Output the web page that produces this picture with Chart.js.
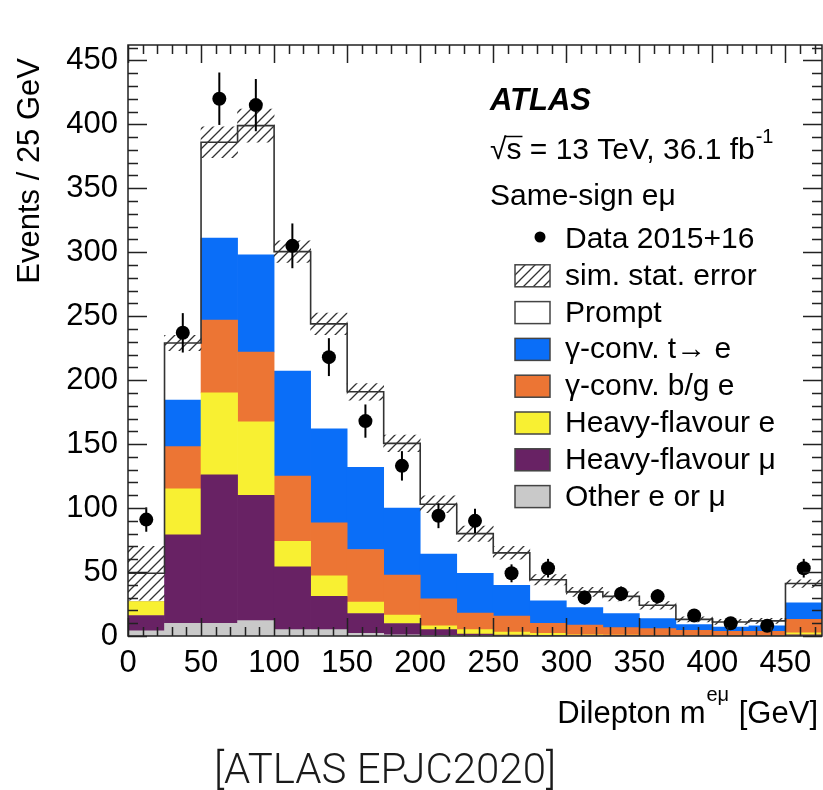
<!DOCTYPE html>
<html>
<head>
<meta charset="utf-8">
<title>Same-sign e-mu dilepton mass</title>
<script src="https://cdn.jsdelivr.net/npm/chart.js@4.4.1/dist/chart.umd.min.js"></script>
<style>
  html, body { margin: 0; padding: 0; background: #fff; }
  #wrap { width: 823px; height: 790px; }
</style>
</head>
<body>
<div id="wrap"><canvas id="myChart" width="823" height="790"></canvas></div>
<script>
// 25 GeV bins, low edges (last bin carries the overflow)
const binLow = [0, 25, 50, 75, 100, 125, 150, 175, 200, 225, 250, 275, 300, 325, 350, 375, 400, 425, 450];
const binWidth = 25;

// observed events and their errors
const data2016 = [91, 237, 420, 415, 305, 218, 168, 133, 94, 90, 49, 53, 30, 33, 31, 16, 10, 8, 53];
const dataErr  = [9.5, 15.4, 20.5, 20.4, 17.5, 14.8, 13, 11.5, 9.7, 9.5, 7, 7.3, 5.5, 5.7, 5.6, 4, 3.2, 2.8, 7.3];

// simulated components, stacked bottom to top
const otherLep = [4, 10, 10, 12, 5, 5, 2, 1, 0.5, 0.3, 0.2, 0.1, 0.1, 0, 0, 0, 0, 0, 0.1];
const hfMuon   = [12, 69, 116, 98, 49, 26, 15.6, 8.8, 4.5, 1.2, 0.6, 0.4, 0.3, 0.3, 0.2, 0.2, 0.1, 0.1, 0.9];
const hfElec   = [11, 36, 64, 57.5, 20, 16, 9, 6.5, 3, 3.5, 2.2, 1.5, 0.6, 0.5, 0.4, 0.3, 0.3, 0.3, 1.5];
const convBG   = [0, 33, 57, 54.5, 51, 41.5, 41, 31.3, 21, 13, 12.5, 8, 7.5, 5.8, 5.2, 4, 3.3, 3.3, 10.5];
const convTop  = [0, 36.5, 64, 76, 82, 73.5, 64.3, 52.4, 35, 31, 24.2, 17.5, 13.8, 11, 7.9, 4.5, 3.3, 4.3, 13];
const prompt   = [22, 44.5, 75, 101, 93.5, 82, 59, 50.6, 39, 31, 25.3, 16.5, 12.2, 13.4, 10.3, 4, 4, 3.8, 15];
const simStatErr = [21, 6, 12, 13, 8.5, 8.5, 6.5, 6.5, 6.5, 6, 5, 4, 3.5, 3.5, 3, 2, 2, 2, 3];

const xTickLabels = [0, 50, 100, 150, 200, 250, 300, 350, 400, 450];
const yTickLabels = [0, 50, 100, 150, 200, 250, 300, 350, 400, 450];

const FONT = "'Liberation Sans', Arial, Helvetica, sans-serif";

const total = binLow.map((_, i) =>
  otherLep[i] + hfMuon[i] + hfElec[i] + convBG[i] + convTop[i] + prompt[i]);

function makeHatch() {
  const c = document.createElement('canvas');
  c.width = 10; c.height = 10;
  const g = c.getContext('2d');
  g.strokeStyle = '#333';
  g.lineWidth = 1.3;
  g.beginPath();
  g.moveTo(-1, 11); g.lineTo(11, -1);
  g.moveTo(-1, 1); g.lineTo(1, -1);
  g.moveTo(9, 11); g.lineTo(11, 9);
  g.stroke();
  return g.createPattern(c, 'repeat');
}
const hatch = makeHatch();

function stackBar(label, values, color, row) {
  return {
    type: 'bar', label: label, data: values,
    backgroundColor: color, borderWidth: 0,
    xAxisID: 'xb', yAxisID: 'y', stack: 'mc', order: 4, grouped: false,
    barPercentage: 1, categoryPercentage: 1,
    legendRow: row
  };
}

const datasets = [
  {
    type: 'scatter', label: 'Data 2015+16',
    data: data2016.map((v, i) => ({ x: binLow[i] + binWidth / 2, y: v })),
    xAxisID: 'x', yAxisID: 'yh', order: 0,
    pointRadius: 7, pointHoverRadius: 7,
    pointBackgroundColor: '#000', pointBorderColor: '#000', pointBorderWidth: 0,
    legendRow: 0
  },
  {
    type: 'line', label: 'total',
    data: binLow.map((x, i) => ({ x: x, y: total[i] }))
      .concat([{ x: binLow[binLow.length - 1] + binWidth, y: total[total.length - 1] }]),
    xAxisID: 'x', yAxisID: 'yh', order: 1,
    stepped: 'before', borderColor: '#333', borderWidth: 1.6,
    pointRadius: 0, fill: false
  },
  {
    type: 'bar', label: 'sim. stat. error',
    data: total.map((t, i) => [t - simStatErr[i], t + simStatErr[i]]),
    xAxisID: 'xb', yAxisID: 'yh', order: 2, grouped: false,
    backgroundColor: hatch, borderWidth: 0,
    barPercentage: 1, categoryPercentage: 1,
    legendRow: 1
  },
  stackBar('Other e or \u03bc', otherLep, '#c9c9c9', 7),
  stackBar('Heavy-flavour \u03bc', hfMuon, '#682264', 6),
  stackBar('Heavy-flavour e', hfElec, '#f8f032', 5),
  stackBar('\u03b3-conv. b/g e', convBG, '#ec7534', 4),
  stackBar('\u03b3-conv. t\u2192 e', convTop, '#0a6ef8', 3),
  stackBar('Prompt', prompt, '#ffffff', 2)
];

const tickFont = { family: FONT, size: 31 };

// ROOT-style frame: inward ticks on all four sides, texts and legend
const atlasDecor = {
  id: 'atlasDecor',
  afterDatasetsDraw(chart) {
    const { ctx, chartArea: a, scales } = chart;
    const xs = scales.x, ys = scales.y;
    ctx.save();

    ctx.strokeStyle = '#000';
    ctx.lineWidth = 2;
    data2016.forEach((v, i) => {
      const px = xs.getPixelForValue(binLow[i] + binWidth / 2);
      ctx.beginPath();
      ctx.moveTo(px, ys.getPixelForValue(v - dataErr[i]));
      ctx.lineTo(px, ys.getPixelForValue(v + dataErr[i]));
      ctx.stroke();
    });

    ctx.strokeStyle = '#222';
    ctx.lineWidth = 1.5;
    ctx.beginPath();
    for (let v = 0; v <= ys.max; v += 10) {
      const py = Math.round(ys.getPixelForValue(v)) + 0.5;
      const len = v % 50 === 0 ? 19 : 10;
      ctx.moveTo(a.left, py); ctx.lineTo(a.left + len, py);
      ctx.moveTo(a.right, py); ctx.lineTo(a.right - len, py);
    }
    for (let v = 0; v <= xs.max; v += 10) {
      const px = Math.round(xs.getPixelForValue(v)) + 0.5;
      const len = v % 50 === 0 ? 18 : 9;
      ctx.moveTo(px, a.bottom); ctx.lineTo(px, a.bottom - len);
      ctx.moveTo(px, a.top); ctx.lineTo(px, a.top + len);
    }
    ctx.stroke();
    ctx.strokeRect(a.left, a.top, a.right - a.left, a.bottom - a.top);
    ctx.restore();
  },
  afterDraw(chart) {
    const ctx = chart.ctx;
    ctx.save();
    ctx.fillStyle = '#000';
    ctx.textBaseline = 'alphabetic';
    ctx.textAlign = 'left';

    // y axis title
    ctx.save();
    ctx.translate(39, 58);
    ctx.rotate(-Math.PI / 2);
    ctx.textAlign = 'right';
    ctx.font = '31px ' + FONT;
    ctx.fillText('Events / 25 GeV', 0, 0);
    ctx.restore();

    // x axis title with superscript
    const xEnd = 818, xBase = 723;
    ctx.font = '31px ' + FONT;
    const wUnit = ctx.measureText(' [GeV]').width;
    ctx.font = '20px ' + FONT;
    const wSup = ctx.measureText('e\u03bc').width + 2;
    ctx.fillText('e\u03bc', xEnd - wUnit - wSup + 1, xBase - 22);
    ctx.font = '31px ' + FONT;
    ctx.fillText(' [GeV]', xEnd - wUnit, xBase);
    ctx.textAlign = 'right';
    ctx.fillText('Dilepton m', xEnd - wUnit - wSup, xBase);
    ctx.textAlign = 'left';

    // labels inside the frame
    ctx.font = 'italic bold 31px ' + FONT;
    ctx.fillText('ATLAS', 490, 110);
    ctx.font = '30px ' + FONT;
    const wRoot = ctx.measureText('\u221a').width;
    const energy = '\u221as = 13 TeV, 36.1 fb';
    ctx.fillText(energy, 490, 159);
    const wS = ctx.measureText('s').width;
    ctx.lineWidth = 1.5;
    ctx.strokeStyle = '#000';
    ctx.beginPath();
    ctx.moveTo(490 + wRoot - 2, 136.5);
    ctx.lineTo(490 + wRoot + wS + 1, 136.5);
    ctx.stroke();
    const wE = ctx.measureText(energy).width;
    ctx.font = '20px ' + FONT;
    ctx.fillText('-1', 490 + wE + 1, 143);
    ctx.font = '30px ' + FONT;
    ctx.fillText('Same-sign e\u03bc', 490, 205);

    // legend
    const rows = chart.data.datasets.filter(d => d.legendRow !== undefined)
      .sort((p, q) => p.legendRow - q.legendRow);
    const boxX = 515, boxW = 35, boxH = 22, textX = 565, firstBase = 248, step = 36.8;
    rows.forEach(d => {
      const base = firstBase + d.legendRow * step;
      if (d.type === 'scatter') {
        ctx.beginPath();
        ctx.arc(540, base - 11, 5.5, 0, Math.PI * 2);
        ctx.fillStyle = '#000';
        ctx.fill();
      } else {
        const top = base - 20;
        ctx.fillStyle = d.backgroundColor;
        ctx.fillRect(boxX, top, boxW, boxH);
        ctx.strokeStyle = '#444';
        ctx.lineWidth = 1.5;
        ctx.strokeRect(boxX, top, boxW, boxH);
      }
      ctx.fillStyle = '#000';
      ctx.font = '30px ' + FONT;
      ctx.fillText(d.label, textX, base);
    });

    // reference note under the plot
    ctx.textAlign = 'center';
    ctx.fillStyle = '#1a1a1a';
    ctx.font = "300 42px Roboto, 'Liberation Sans', sans-serif";
    ctx.fillText('[ATLAS EPJC2020]', 385, 783);
    ctx.restore();
  }
};

const config = {
  data: { labels: binLow.map(String), datasets: datasets },
  options: {
    responsive: false,
    animation: false,
    events: [],
    layout: { autoPadding: false, padding: { left: 0, right: 1, top: 45, bottom: 0 } },
    plugins: { legend: { display: false }, tooltip: { enabled: false } },
    scales: {
      xb: { type: 'category', display: false, stacked: true, offset: true },
      x: {
        type: 'linear', position: 'bottom', min: 0, max: 475,
        grid: { display: false, drawTicks: false }, border: { display: false },
        ticks: { font: tickFont, color: '#000', padding: 9, maxRotation: 0 },
        afterBuildTicks: s => { s.ticks = xTickLabels.map(v => ({ value: v })); },
        afterFit: s => { s.height = 154; s.paddingLeft = 0; s.paddingRight = 0; }
      },
      y: {
        type: 'linear', position: 'left', min: 0, max: 462, stacked: true,
        grid: { display: false, drawTicks: false }, border: { display: false },
        ticks: { font: tickFont, color: '#000', padding: 10 },
        afterBuildTicks: s => { s.ticks = yTickLabels.map(v => ({ value: v })); },
        afterFit: s => { s.width = 128; s.paddingTop = 0; s.paddingBottom = 0; }
      },
      yh: { type: 'linear', display: false, min: 0, max: 462 }
    }
  },
  plugins: [atlasDecor]
};

var myChart = new Chart(document.getElementById('myChart'), config);
</script>
</body>
</html>
